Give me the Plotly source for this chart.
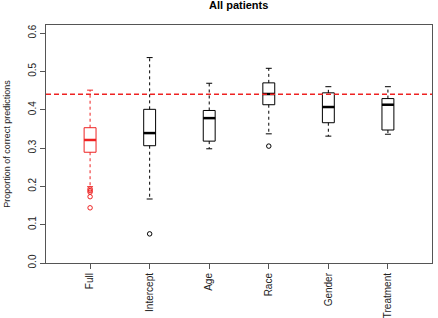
import plotly.graph_objects as go

categories = ["Full", "Intercept", "Age", "Race", "Gender", "Treatment"]
lower_whisker = [0.199, 0.167, 0.298, 0.337, 0.331, 0.336]
q1 = [0.289, 0.306, 0.318, 0.413, 0.366, 0.347]
median = [0.321, 0.339, 0.378, 0.441, 0.407, 0.413]
q3 = [0.353, 0.401, 0.398, 0.470, 0.444, 0.429]
upper_whisker = [0.451, 0.536, 0.469, 0.508, 0.460, 0.460]
outlier_cat = [0, 0, 0, 0, 0, 1, 3]
outlier_val = [0.193, 0.189, 0.185, 0.173, 0.144, 0.076, 0.305]
reference_line = 0.440

colors = ["#ee2222", "black", "black", "black", "black", "black"]
box_w = 0.2
pos = list(range(1, len(categories) + 1))

fig = go.Figure()
for i, c in enumerate(categories):
    col = colors[i]
    x = pos[i]
    # dashed whiskers
    fig.add_trace(go.Scatter(x=[x, x, None, x, x], y=[q3[i], upper_whisker[i], None, q1[i], lower_whisker[i]],
                             mode="lines", line=dict(color=col, width=1, dash="3px,3px"),
                             hoverinfo="skip", showlegend=False))
    # caps
    cw = box_w / 4
    fig.add_trace(go.Scatter(x=[x - cw, x + cw, None, x - cw, x + cw],
                             y=[upper_whisker[i], upper_whisker[i], None, lower_whisker[i], lower_whisker[i]],
                             mode="lines", line=dict(color=col, width=1), hoverinfo="skip", showlegend=False))
    fig.add_trace(go.Box(x=[x], q1=[q1[i]], median=[median[i]], q3=[q3[i]],
                         lowerfence=[q1[i]], upperfence=[q3[i]], width=box_w,
                         line=dict(color=col, width=1), fillcolor="rgba(255,255,255,0)",
                         whiskerwidth=0, showlegend=False))
    # thick median
    fig.add_trace(go.Scatter(x=[x - box_w / 2, x + box_w / 2], y=[median[i], median[i]],
                             mode="lines", line=dict(color=col, width=2.5), hoverinfo="skip", showlegend=False))

fig.add_trace(go.Scatter(x=[pos[k] for k in outlier_cat], y=outlier_val, mode="markers",
                         marker=dict(symbol="circle-open", size=4.5, color=[colors[k] for k in outlier_cat], line=dict(width=1)),
                         showlegend=False))

fig.add_shape(type="line", xref="paper", x0=0, x1=1, yref="y", y0=reference_line, y1=reference_line,
              line=dict(color="#ee2222", width=1.5, dash="5px,3px"))

fig.update_layout(
    width=438, height=318,
    margin=dict(l=46, r=6, t=25, b=55),
    paper_bgcolor="white", plot_bgcolor="white",
    font=dict(family="Liberation Sans, Arial, sans-serif", color="black", size=10),
    title=dict(text="<b>All patients</b>", x=0.545, xanchor="center", y=0.985, yanchor="middle",
               font=dict(size=11, color="black")),
)
fig.update_xaxes(range=[0.26, 6.74], tickvals=pos, ticktext=categories, tickangle=-90,
                 showline=True, linecolor="#555", linewidth=1, mirror=True,
                 ticks="outside", ticklen=5, tickcolor="#555", showgrid=False, zeroline=False,
                 automargin=False, tickfont=dict(size=10, color="#222"))
fig.update_yaxes(range=[0, 0.621], tickvals=[0, 0.1, 0.2, 0.3, 0.4, 0.5, 0.6], tickformat=".1f",
                 tickangle=-90, showline=True, linecolor="#555", linewidth=1, mirror=True,
                 ticks="outside", ticklen=5, tickcolor="#555", showgrid=False, zeroline=False,
                 automargin=False, tickfont=dict(size=10, color="#222"),
                 title=dict(text="Proportion of correct predictions", font=dict(size=9, color="#222"), standoff=14))

fig.write_html("out.html")
